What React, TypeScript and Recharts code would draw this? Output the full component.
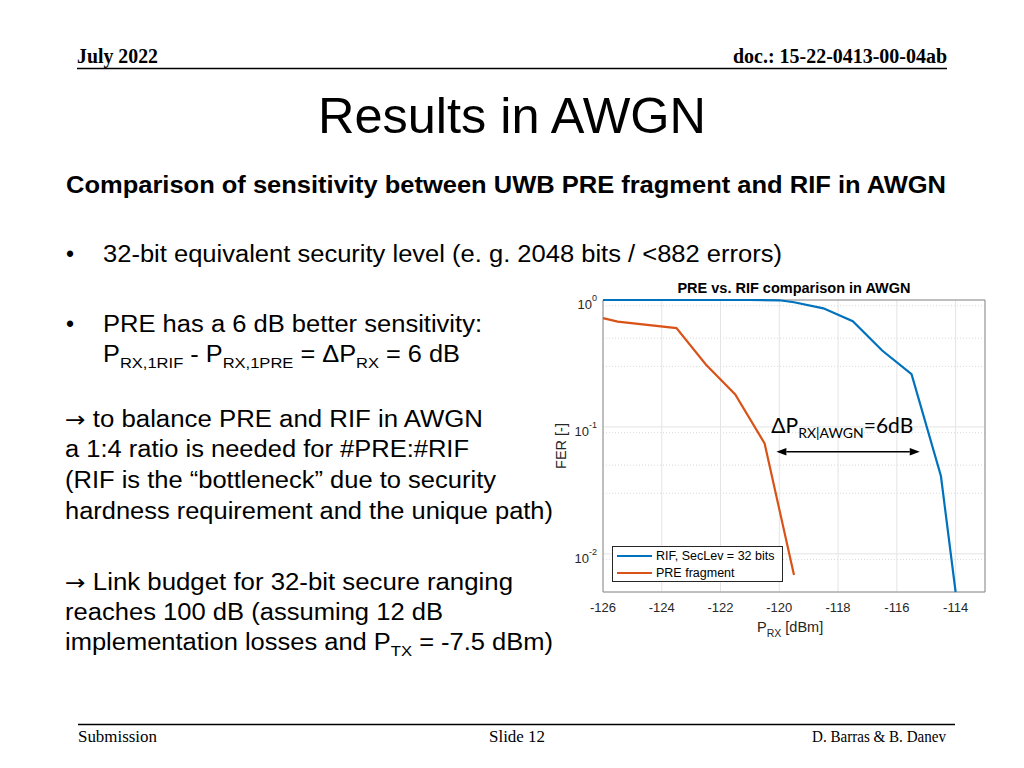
import React from 'react';
import {
  LineChart, Line, XAxis, YAxis, CartesianGrid, ReferenceLine, ReferenceArea, Legend,
} from 'recharts';

// FER vs received power, AWGN
const SERIES_NAMES = ['RIF, SecLev = 32 bits', 'PRE fragment'];
const RIF_PRX = [-126, -125, -124, -123, -122, -121, -120, -119.5, -118.5, -117.5, -116.5, -115.5, -114.5, -114];
const RIF_FER = [1, 1, 1, 1, 1, 1, 0.995, 0.96, 0.86, 0.68, 0.4, 0.26, 0.041, 0.005];
const PRE_PRX = [-126, -125.5, -123.5, -122.5, -121.5, -120.5, -119.5];
const PRE_FER = [0.72, 0.675, 0.6, 0.31, 0.18, 0.074, 0.0068];

const X_DOMAIN = [-126, -113];
const X_TICKS = [-126, -124, -122, -120, -118, -116, -114];
const Y_DOMAIN = [0.005, 1];
const Y_TICKS = [0.01, 0.1, 1];
const Y_MINOR = [0.006, 0.007, 0.008, 0.009, 0.02, 0.03, 0.04, 0.05, 0.06, 0.07, 0.08, 0.09,
  0.2, 0.3, 0.4, 0.5, 0.6, 0.7, 0.8, 0.9];

// delta annotation arrow (dBm, FER)
const ARROW_FROM = { x: -120.1, y: 0.0637 };
const ARROW_TO = { x: -115.22, y: 0.0637 };

const rifData = RIF_PRX.map((x, i) => ({ prx: x, fer: RIF_FER[i] }));
const preData = PRE_PRX.map((x, i) => ({ prx: x, fer: PRE_FER[i] }));

const SANS = "'Liberation Sans', Arial, Helvetica, sans-serif";
const SERIF = "'Liberation Serif', 'Times New Roman', serif";
const AXIS_TXT = '#262626';
const TICK_CLR = '#777777';

const PowTick = (props: any) => {
  const { x, y, payload } = props;
  const exp = Math.round(Math.log10(payload.value));
  return (
    <text x={x} y={y + 9} textAnchor="end" fill={AXIS_TXT} fontSize={13} fontFamily={SANS}>
      <tspan>10</tspan>
      <tspan dy={-8} fontSize={9}>{exp}</tspan>
    </text>
  );
};

const ArrowShape = (props: any) => {
  const { x1, y1, x2, y2 } = props;
  const h = 10, w = 3.8;
  return (
    <g>
      <line x1={x1 + h} y1={y1} x2={x2 - h} y2={y2} stroke="#000" strokeWidth={1.5} />
      <polygon points={`${x1},${y1} ${x1 + h},${y1 - w} ${x1 + h},${y1 + w}`} fill="#000" />
      <polygon points={`${x2},${y2} ${x2 - h},${y2 - w} ${x2 - h},${y2 + w}`} fill="#000" />
      <text x={x1 - 5} y={y1 - 19} fontFamily="Lato, 'Open Sans', sans-serif" fontSize={21} fill="#000">
        ΔP<tspan fontSize={14} dy={5}>RX|AWGN</tspan><tspan dy={-5}>=6dB</tspan>
      </text>
    </g>
  );
};

const LegendBox = (props: any) => (
  <div style={{
    boxSizing: 'border-box', width: 171, height: 36, border: '1px solid #262626', background: '#fff',
    padding: '1px 0 0 4px', fontFamily: SANS, fontSize: 12.5, color: '#000',
  }}>
    {(props.payload || []).map((e: any) => (
      <div key={e.value} style={{ display: 'flex', alignItems: 'center', height: 16.6, whiteSpace: 'nowrap' }}>
        <span style={{ display: 'inline-block', width: 35, borderTop: `2px solid ${e.color}`, marginRight: 4 }} />
        {e.value}
      </div>
    ))}
  </div>
);

const XLabel = (props: any) => {
  const vb = props.viewBox;
  return (
    <text x={vb.x + vb.width / 2 - 37} y={vb.y + 40} fill={AXIS_TXT} fontSize={14.5} fontFamily={SANS}>
      P<tspan fontSize={10.5} dy={5}>RX</tspan><tspan dy={-5}> [dBm]</tspan>
    </text>
  );
};

const YLabel = (props: any) => {
  const vb = props.viewBox;
  const cx = vb.x + 26, cy = vb.y + vb.height / 2;
  return (
    <text x={cx} y={cy} transform={`rotate(-90 ${cx} ${cy})`} textAnchor="middle"
      fill={AXIS_TXT} fontSize={14.5} fontFamily={SANS}>FER [-]</text>
  );
};

function FerChart() {
  return (
    <div style={{ position: 'absolute', left: 540, top: 270 }}>
      <LineChart width={470} height={380} margin={{ top: 30, right: 25, bottom: 18, left: 0 }}>
        <CartesianGrid vertical={false} horizontalValues={Y_MINOR} stroke="#d9d9d9" strokeDasharray="1 2" />
        <CartesianGrid stroke="#e4e4e4" />
        <XAxis type="number" dataKey="prx" domain={X_DOMAIN} ticks={X_TICKS} height={40}
          tickLine={false} axisLine={false} tickMargin={5}
          tick={{ fontSize: 13, fill: AXIS_TXT, fontFamily: SANS }} label={<XLabel />} />
        <YAxis type="number" dataKey="fer" scale="log" domain={Y_DOMAIN} ticks={Y_TICKS} width={63}
          tickLine={false} axisLine={false} tickSize={6} tickMargin={0} tick={<PowTick />} label={<YLabel />} />

        {/* inward ticks on all four sides, MATLAB box style */}
        <XAxis xAxisId="bt" type="number" domain={X_DOMAIN} ticks={X_TICKS} allowDataOverflow mirror height={0}
          tick={false} axisLine={false} tickSize={4} tickLine={{ stroke: TICK_CLR }} />
        <XAxis xAxisId="tp" orientation="top" type="number" domain={X_DOMAIN} ticks={X_TICKS} allowDataOverflow mirror height={0}
          tick={false} axisLine={false} tickSize={4} tickLine={{ stroke: TICK_CLR }} />
        <YAxis yAxisId="lm" type="number" scale="log" domain={Y_DOMAIN} ticks={Y_TICKS} allowDataOverflow mirror width={0}
          tick={false} axisLine={false} tickSize={4.5} tickLine={{ stroke: TICK_CLR }} />
        <YAxis yAxisId="lmn" type="number" scale="log" domain={Y_DOMAIN} ticks={Y_MINOR} allowDataOverflow mirror width={0}
          tick={false} axisLine={false} tickSize={2.5} tickLine={{ stroke: TICK_CLR }} />
        <YAxis yAxisId="rm" orientation="right" type="number" scale="log" domain={Y_DOMAIN} ticks={Y_TICKS} allowDataOverflow mirror width={0}
          tick={false} axisLine={false} tickSize={4.5} tickLine={{ stroke: TICK_CLR }} />
        <YAxis yAxisId="rmn" orientation="right" type="number" scale="log" domain={Y_DOMAIN} ticks={Y_MINOR} allowDataOverflow mirror width={0}
          tick={false} axisLine={false} tickSize={2.5} tickLine={{ stroke: TICK_CLR }} />

        <ReferenceArea x1={X_DOMAIN[0]} x2={X_DOMAIN[1]} y1={Y_DOMAIN[0]} y2={Y_DOMAIN[1]}
          fill="none" fillOpacity={0} stroke="#8c8c8c" strokeWidth={1} />

        <Line data={rifData} dataKey="fer" name={SERIES_NAMES[0]} stroke="#0072BD" strokeWidth={2.2}
          dot={false} legendType="line" isAnimationActive={false} />
        <Line data={preData} dataKey="fer" name={SERIES_NAMES[1]} stroke="#D95319" strokeWidth={2.2}
          dot={false} legendType="line" isAnimationActive={false} />

        <ReferenceLine segment={[ARROW_FROM, ARROW_TO]} shape={ArrowShape} ifOverflow="visible" />

        <Legend layout="vertical" align="center" verticalAlign="middle" content={<LegendBox />}
          itemSorter={(item: any) => SERIES_NAMES.indexOf(item.value)}
          wrapperStyle={{ left: 72, top: 276, width: 171, height: 36 }} />
      </LineChart>
    </div>
  );
}

const Sub = ({ children }: { children: React.ReactNode }) => (
  <tspan fontSize={15} dy={6}>{children}</tspan>
);
const Up = ({ children }: { children: React.ReactNode }) => <tspan dy={-6}>{children}</tspan>;
const Arrow = () => <tspan fontFamily="'DejaVu Sans', sans-serif" fontSize={22}>→</tspan>;

function SlideText() {
  const body = { fontFamily: SANS, fontSize: 23, fill: '#000', lengthAdjust: 'spacingAndGlyphs' as const };
  return (
    <svg width={1024} height={768} style={{ position: 'absolute', left: 0, top: 0 }}>
      <text x={77} y={63} fontFamily={SERIF} fontWeight="bold" fontSize={20} textLength={81} lengthAdjust="spacingAndGlyphs">July 2022</text>
      <text x={733} y={63} fontFamily={SERIF} fontWeight="bold" fontSize={20} textLength={214} lengthAdjust="spacingAndGlyphs">doc.: 15-22-0413-00-04ab</text>
      <line x1={77} x2={947} y1={68.5} y2={68.5} stroke="#000" strokeWidth={1.5} />

      <text x={318} y={133} fontFamily={SANS} fontSize={50} textLength={388} lengthAdjust="spacingAndGlyphs">Results in AWGN</text>
      <text x={66} y={192.5} fontFamily={SANS} fontWeight="bold" fontSize={23.5} textLength={880} lengthAdjust="spacingAndGlyphs">
        Comparison of sensitivity between UWB PRE fragment and RIF in AWGN
      </text>

      <text x={66} y={262} {...body}>•</text>
      <text x={103} y={262} {...body} textLength={679}>32-bit equivalent security level (e. g. 2048 bits / &lt;882 errors)</text>
      <text x={66} y={332} {...body}>•</text>
      <text x={103} y={332} {...body} textLength={379}>PRE has a 6 dB better sensitivity:</text>
      <text x={103} y={362} {...body} textLength={357}>
        P<Sub>RX,1RIF</Sub><Up> - P</Up><Sub>RX,1PRE</Sub><Up> = ΔP</Up><Sub>RX</Sub><Up> = 6 dB</Up>
      </text>

      <text x={65} y={427} {...body} textLength={418}><Arrow /> to balance PRE and RIF in AWGN</text>
      <text x={65} y={457} {...body} textLength={404}>a 1:4 ratio is needed for #PRE:#RIF</text>
      <text x={65} y={488} {...body} textLength={431}>(RIF is the “bottleneck” due to security</text>
      <text x={65} y={519} {...body} textLength={488}>hardness requirement and the unique path)</text>

      <text x={65} y={590} {...body} textLength={448}><Arrow /> Link budget for 32-bit secure ranging</text>
      <text x={65} y={620} {...body} textLength={378}>reaches 100 dB (assuming 12 dB</text>
      <text x={65} y={650} {...body} textLength={488}>
        implementation losses and P<Sub>TX</Sub><Up> = -7.5 dBm)</Up>
      </text>

      <line x1={78} x2={955} y1={724.5} y2={724.5} stroke="#000" strokeWidth={1.5} />
      <text x={78} y={742} fontFamily={SERIF} fontSize={16} textLength={79} lengthAdjust="spacingAndGlyphs">Submission</text>
      <text x={489} y={742} fontFamily={SERIF} fontSize={16} textLength={56} lengthAdjust="spacingAndGlyphs">Slide 12</text>
      <text x={812} y={742} fontFamily={SERIF} fontSize={16} textLength={134} lengthAdjust="spacingAndGlyphs">D. Barras &amp; B. Danev</text>

      <text x={794} y={293} textAnchor="middle" fontFamily={SANS} fontWeight="bold" fontSize={14.5} fill="#000">
        PRE vs. RIF comparison in AWGN
      </text>
    </svg>
  );
}

export default function App() {
  return (
    <div style={{ position: 'absolute', left: 0, top: 0, width: 1024, height: 768, background: '#fff', overflow: 'hidden' }}>
      <SlideText />
      <FerChart />
    </div>
  );
}
